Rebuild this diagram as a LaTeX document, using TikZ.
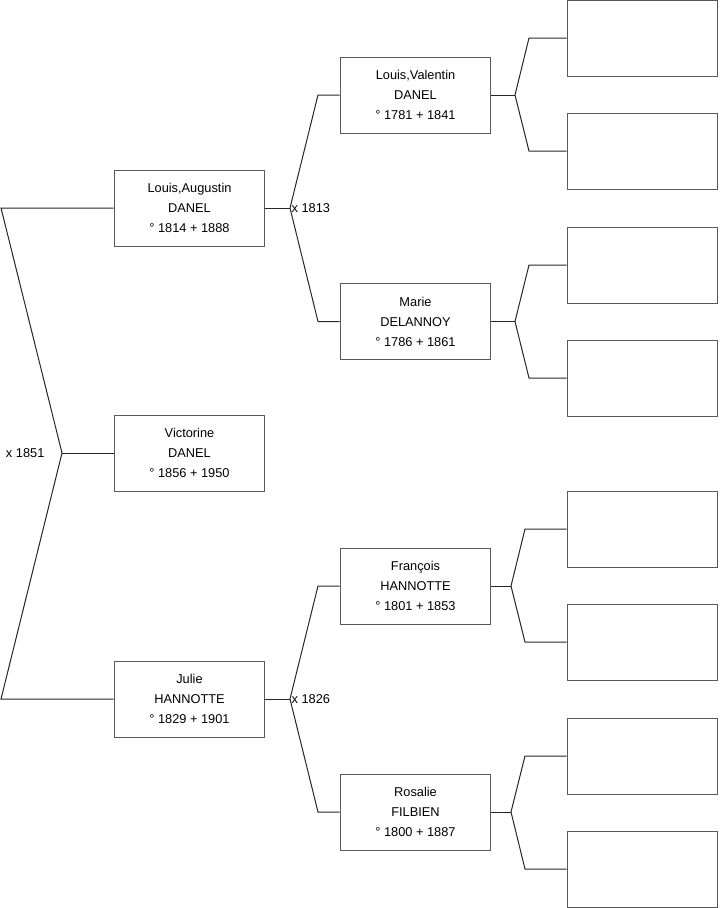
\documentclass[tikz,border=0pt]{standalone}
\usepackage{fontspec}
\setmainfont{Liberation Sans}
\usetikzlibrary{positioning}

\begin{document}
\begin{tikzpicture}[x=0.75pt, y=-0.75pt,
  person/.style={draw=black!65, line width=0.75pt, minimum width=113pt,
                 minimum height=57pt, inner sep=0pt, align=center,
                 font=\fontsize{9.6}{15}\selectfont},
  link/.style={draw=black!85, line width=0.75pt},
  year/.style={font=\fontsize{9.6}{11}\selectfont, inner sep=1pt},
]
\useasboundingbox (0,0) rectangle (719,908);

% generation 1 and 2
\node[person] (augustin) at (189.5,208) {Louis,Augustin\\DANEL\\° 1814 + 1888};
\node[person] (victorine) at (189.5,453) {Victorine\\DANEL\\° 1856 + 1950};
\node[person] (julie) at (189.5,699) {Julie\\HANNOTTE\\° 1829 + 1901};

% generation 3
\node[person] (valentin) at (415.5,95) {Louis,Valentin\\DANEL\\° 1781 + 1841};
\node[person] (marie) at (415.5,321.5) {Marie\\DELANNOY\\° 1786 + 1861};
\node[person] (francois) at (415.5,586) {François\\HANNOTTE\\° 1801 + 1853};
\node[person] (rosalie) at (415.5,812) {Rosalie\\FILBIEN\\° 1800 + 1887};

% empty slots
\foreach \y/\n in {38/e1, 151/e2, 265/e3, 378/e4, 529/e5, 642/e6, 756/e7, 869/e8}
  \node[person] (\n) at (642.5,\y) {};

% junctions
\coordinate (f0) at (1,208);
\coordinate (m1851) at (62,453);
\coordinate (f1) at (1,699);
\coordinate (m1813) at (290,208);
\coordinate (m1826) at (290,699);
\coordinate (va) at (515,95);
\coordinate (ma) at (515,321.5);
\coordinate (fr) at (511,586);
\coordinate (ro) at (511,812);

\node[year, left=12pt of m1851] {x 1851};
\node[year, right=0pt of m1813] {x 1813};
\node[year, right=0pt of m1826] {x 1826};

\draw[link] (augustin.west) -- (f0) -- (m1851) -- (f1) -- (julie.west);
\draw[link] (m1851) -- (victorine.west);

\draw[link] (augustin.east) -- (m1813);
\draw[link] (m1813) -- (318,95) -- (valentin.west);
\draw[link] (m1813) -- (318,321.5) -- (marie.west);
\draw[link] (julie.east) -- (m1826);
\draw[link] (m1826) -- (318,586) -- (francois.west);
\draw[link] (m1826) -- (318,812) -- (rosalie.west);

\draw[link] (valentin.east) -- (va);
\draw[link] (va) -- (529,38) -- (e1.west);
\draw[link] (va) -- (529,151) -- (e2.west);
\draw[link] (marie.east) -- (ma);
\draw[link] (ma) -- (529,265) -- (e3.west);
\draw[link] (ma) -- (529,378) -- (e4.west);
\draw[link] (francois.east) -- (fr);
\draw[link] (fr) -- (525,529) -- (e5.west);
\draw[link] (fr) -- (525,642) -- (e6.west);
\draw[link] (rosalie.east) -- (ro);
\draw[link] (ro) -- (525,756) -- (e7.west);
\draw[link] (ro) -- (525,869) -- (e8.west);
\end{tikzpicture}
\end{document}
